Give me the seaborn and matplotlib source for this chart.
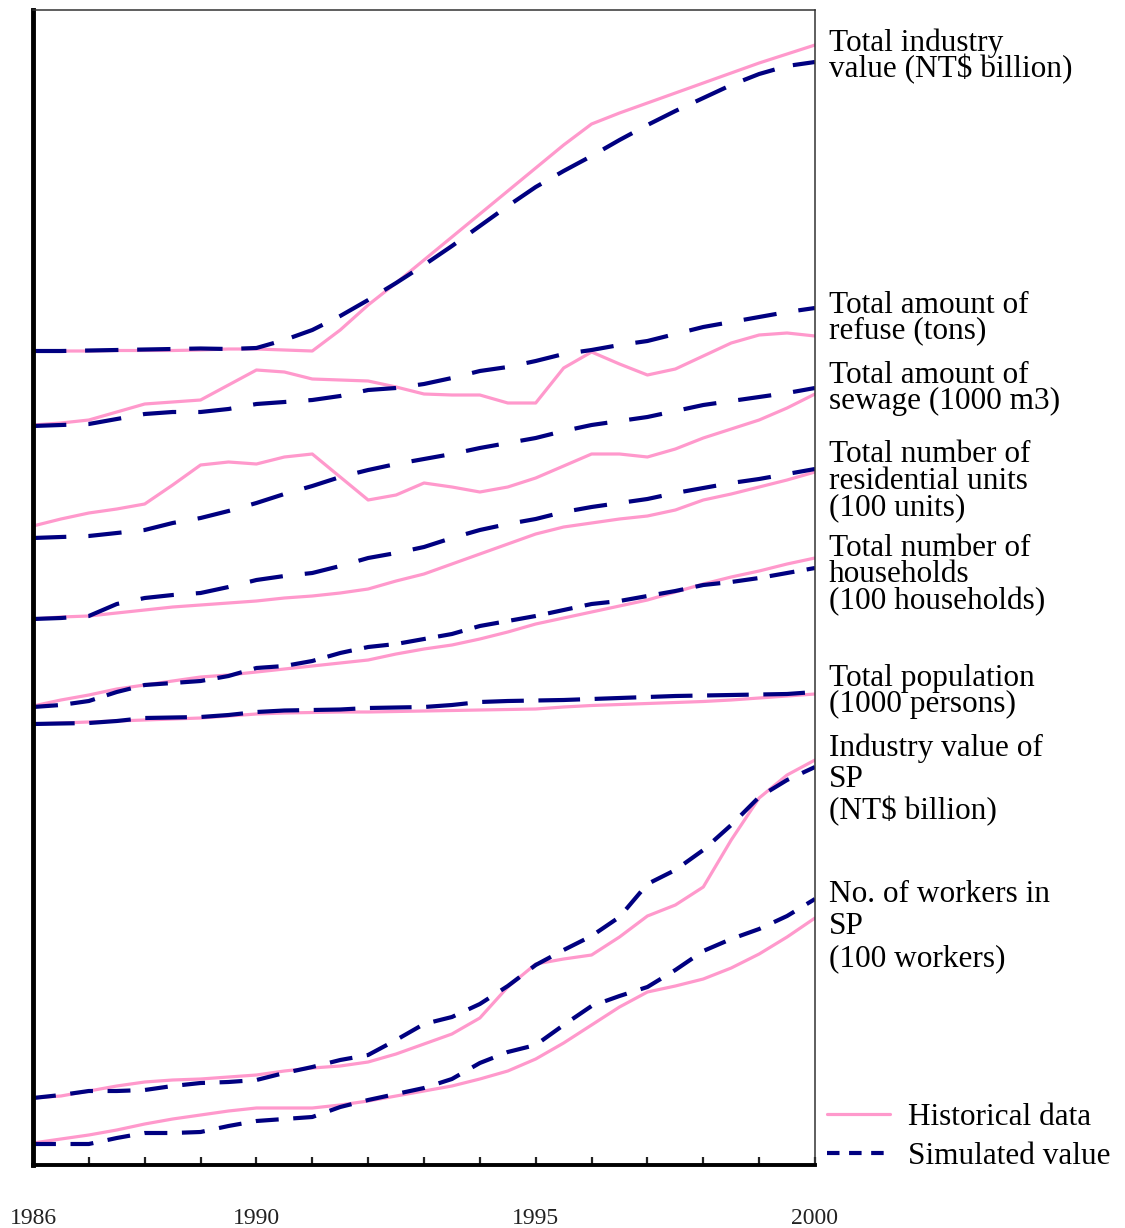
import matplotlib
matplotlib.use("Agg")
import matplotlib.pyplot as plt
import seaborn as sns
from matplotlib.lines import Line2D

# ---------------- data (relative level, read downward on an unscaled axis) ----------------
years = [1986, 1986.5, 1987, 1987.5, 1988, 1988.5, 1989, 1989.5, 1990, 1990.5,
         1991, 1991.5, 1992, 1992.5, 1993, 1993.5, 1994, 1994.5, 1995, 1995.5,
         1996, 1996.5, 1997, 1997.5, 1998, 1998.5, 1999, 1999.5, 2000]

industry_hist = [351, 351, 351, 350.5, 350.5, 350.5, 350, 349, 349, 350,
                 351, 330, 305, 283, 260, 237, 214, 191, 168, 145,
                 124, 113, 103, 93, 83, 73, 63, 54, 45]
industry_sim = [351, 351, 350.5, 350, 349.5, 349, 348.5, 349, 348, 340,
                330, 316, 300, 283, 265, 246, 226, 206, 187, 171,
                156, 140, 125, 111, 98, 85, 74, 66, 62]

refuse_hist = [425, 423, 420, 412, 404, 402, 400, 385, 370, 372,
               379, 380, 381, 387, 394, 395, 395, 403, 403, 368,
               352, 364, 375, 369, 356, 343, 335, 333, 336]
refuse_sim = [426, 425, 424, 419, 414, 412, 412, 409, 404, 402,
              400, 396, 390, 388, 384, 378, 371, 367, 361, 354,
              350, 345, 341, 334, 327, 322, 317, 312, 308]

sewage_hist = [526, 519, 513, 509, 504, 485, 465, 462, 464, 457,
               454, 477, 500, 495, 483, 487, 492, 487, 478, 466,
               454, 454, 457, 449, 438, 429, 420, 408, 394]
sewage_sim = [538, 537, 536, 533, 530, 523, 518, 511, 503, 494,
              486, 477, 470, 464, 459, 454, 448, 443, 438, 431,
              425, 421, 417, 411, 405, 401, 397, 393, 388]

residential_hist = [619, 617, 616, 613, 610, 607, 605, 603, 601, 598,
                    596, 593, 589, 581, 574, 564, 554, 544, 534, 527,
                    523, 519, 516, 510, 500, 494, 487, 480, 472]
residential_sim = [619, 618, 616, 604, 598, 595, 593, 587, 580, 576,
                   573, 566, 558, 553, 547, 538, 530, 524, 519, 512,
                   507, 503, 499, 493, 488, 483, 479, 474, 469]

households_hist = [706, 700, 695, 689, 685, 681, 677, 675, 672, 669,
                   666, 663, 660, 654, 649, 645, 639, 632, 624, 618,
                   612, 606, 600, 592, 584, 577, 571, 564, 558]
households_sim = [707, 705, 701, 692, 685, 683, 681, 676, 668, 666,
                  661, 653, 647, 644, 639, 634, 626, 621, 616, 610,
                  604, 601, 596, 591, 585, 582, 578, 573, 568]

population_hist = [724, 723, 722, 721, 720, 719, 718, 716, 714, 713,
                   712.5, 712, 712, 711.5, 711, 710.5, 710, 709.5, 709, 707,
                   705.5, 704.5, 703.5, 702.5, 701.5, 700, 698, 696, 694]
population_sim = [724, 723.5, 723, 721, 718, 717.5, 717, 715, 712, 710.5,
                  710, 709.5, 708, 707.5, 707, 705, 702, 701, 700.5, 700,
                  699, 698, 697, 696, 695.5, 695, 694.5, 694, 692]

sp_industry_hist = [1098, 1096, 1091, 1086, 1082, 1080, 1079, 1077, 1075, 1071,
                    1068, 1066, 1062, 1054, 1044, 1034, 1018, 987, 964, 959,
                    955, 937, 916, 905, 887, 840, 798, 775, 760]
sp_industry_sim = [1098, 1095, 1091, 1091, 1090, 1086, 1083, 1082, 1080, 1073,
                   1067, 1060, 1055, 1040, 1024, 1017, 1004, 986, 965, 950,
                   936, 917, 884, 870, 850, 825, 797, 780, 767]

sp_workers_hist = [1143, 1139, 1135, 1130, 1124, 1119, 1115, 1111, 1108, 1108,
                   1108, 1105, 1101, 1096, 1091, 1086, 1079, 1071, 1059, 1043,
                   1025, 1007, 992, 986, 979, 968, 954, 937, 918]
sp_workers_sim = [1144, 1144, 1144, 1138, 1133, 1133, 1132, 1126, 1121, 1119,
                  1117, 1107, 1100, 1094, 1088, 1079, 1063, 1052, 1045, 1025,
                  1006, 996, 987, 970, 951, 939, 929, 916, 899]

series_labels = [
    ["Total industry", "value (NT$ billion)"],
    ["Total amount of", "refuse (tons)"],
    ["Total amount of", "sewage (1000 m3)"],
    ["Total number of", "residential units", "(100 units)"],
    ["Total number of", "households", "(100 households)"],
    ["Total population", "(1000 persons)"],
    ["Industry value of", "SP", "(NT$ billion)"],
    ["No. of workers in", "SP", "(100 workers)"],
]
tick_years = list(range(1986, 2001))
labelled_years = [1986, 1990, 1995, 2000]
legend_labels = ["Historical data", "Simulated value"]

# ---------------- styling ----------------
PINK = "#FF99CC"
NAVY = "#000080"
SERIF = ["Liberation Serif", "DejaVu Serif"]

sns.set_theme(style="white")
plt.rcParams["font.family"] = SERIF

W, H = 1125, 1228
fig = plt.figure(figsize=(W / 100, H / 100), dpi=100)
ax = fig.add_axes([33 / W, 1 - 1165 / H, (815 - 33) / W, (1165 - 10) / H])

pairs = [
    (industry_hist, industry_sim, (8, 4.5)),
    (refuse_hist, refuse_sim, (8, 5.3)),
    (sewage_hist, sewage_sim, (8, 5.3)),
    (residential_hist, residential_sim, (8, 5.3)),
    (households_hist, households_sim, (6, 3)),
    (population_hist, population_sim, (10, 3.5)),
    (sp_industry_hist, sp_industry_sim, (5.5, 3.5)),
    (sp_workers_hist, sp_workers_sim, (5.5, 3.5)),
]

for hist, sim, dash in pairs:
    sns.lineplot(x=years, y=hist, ax=ax, color=PINK, linewidth=2.3, legend=False)
    sns.lineplot(x=years, y=sim, ax=ax, color=NAVY, linewidth=3.0, legend=False)
    ax.lines[-1].set_dashes(dash)
    ax.lines[-1].set_solid_capstyle("butt")

ax.set_xlim(1986, 2000)
ax.set_ylim(1165, 10)
ax.set_yticks([])
ax.set_xticks(tick_years)
ax.set_xticklabels([str(y) if y in labelled_years else "" for y in tick_years])
ax.tick_params(axis="x", direction="in", length=6, width=1.6, pad=31,
               labelsize=17, colors="#222222", bottom=True)
ax.set_xlabel("")
ax.set_ylabel("")
for s in ["left", "bottom"]:
    ax.spines[s].set_visible(True)
    ax.spines[s].set_color("black")
ax.spines["left"].set_linewidth(3.5)
ax.spines["bottom"].set_linewidth(2.8)
for s in ["top", "right"]:
    ax.spines[s].set_color("#333333")
    ax.spines[s].set_linewidth(1.1)

# right-hand series labels (baseline pixel rows, one text per printed line)
baselines = [[51, 77], [313, 338], [383, 409], [462, 489, 515],
             [556, 582, 609], [686, 712], [756, 787, 819], [902, 934, 966]]
for lines, bl in zip(series_labels, baselines):
    for txt, b in zip(lines, bl):
        fig.text(829 / W, 1 - b / H, txt, fontsize=22.5, va="baseline", ha="left",
                 color="black")

handles = [Line2D([], [], color=PINK, lw=2.3),
           Line2D([], [], color=NAVY, lw=3.0, dashes=(3, 2.3))]
leg = fig.legend(handles, legend_labels, loc="upper left",
                 bbox_to_anchor=(827 / W, 1 - 1103 / H), frameon=False,
                 fontsize=22.5, handlelength=2.0, handletextpad=0.6, labelspacing=0.32,
                 borderaxespad=0, borderpad=0)
for t in leg.get_texts():
    t.set_color("black")

fig.savefig("out.png", dpi=100, facecolor="white")
